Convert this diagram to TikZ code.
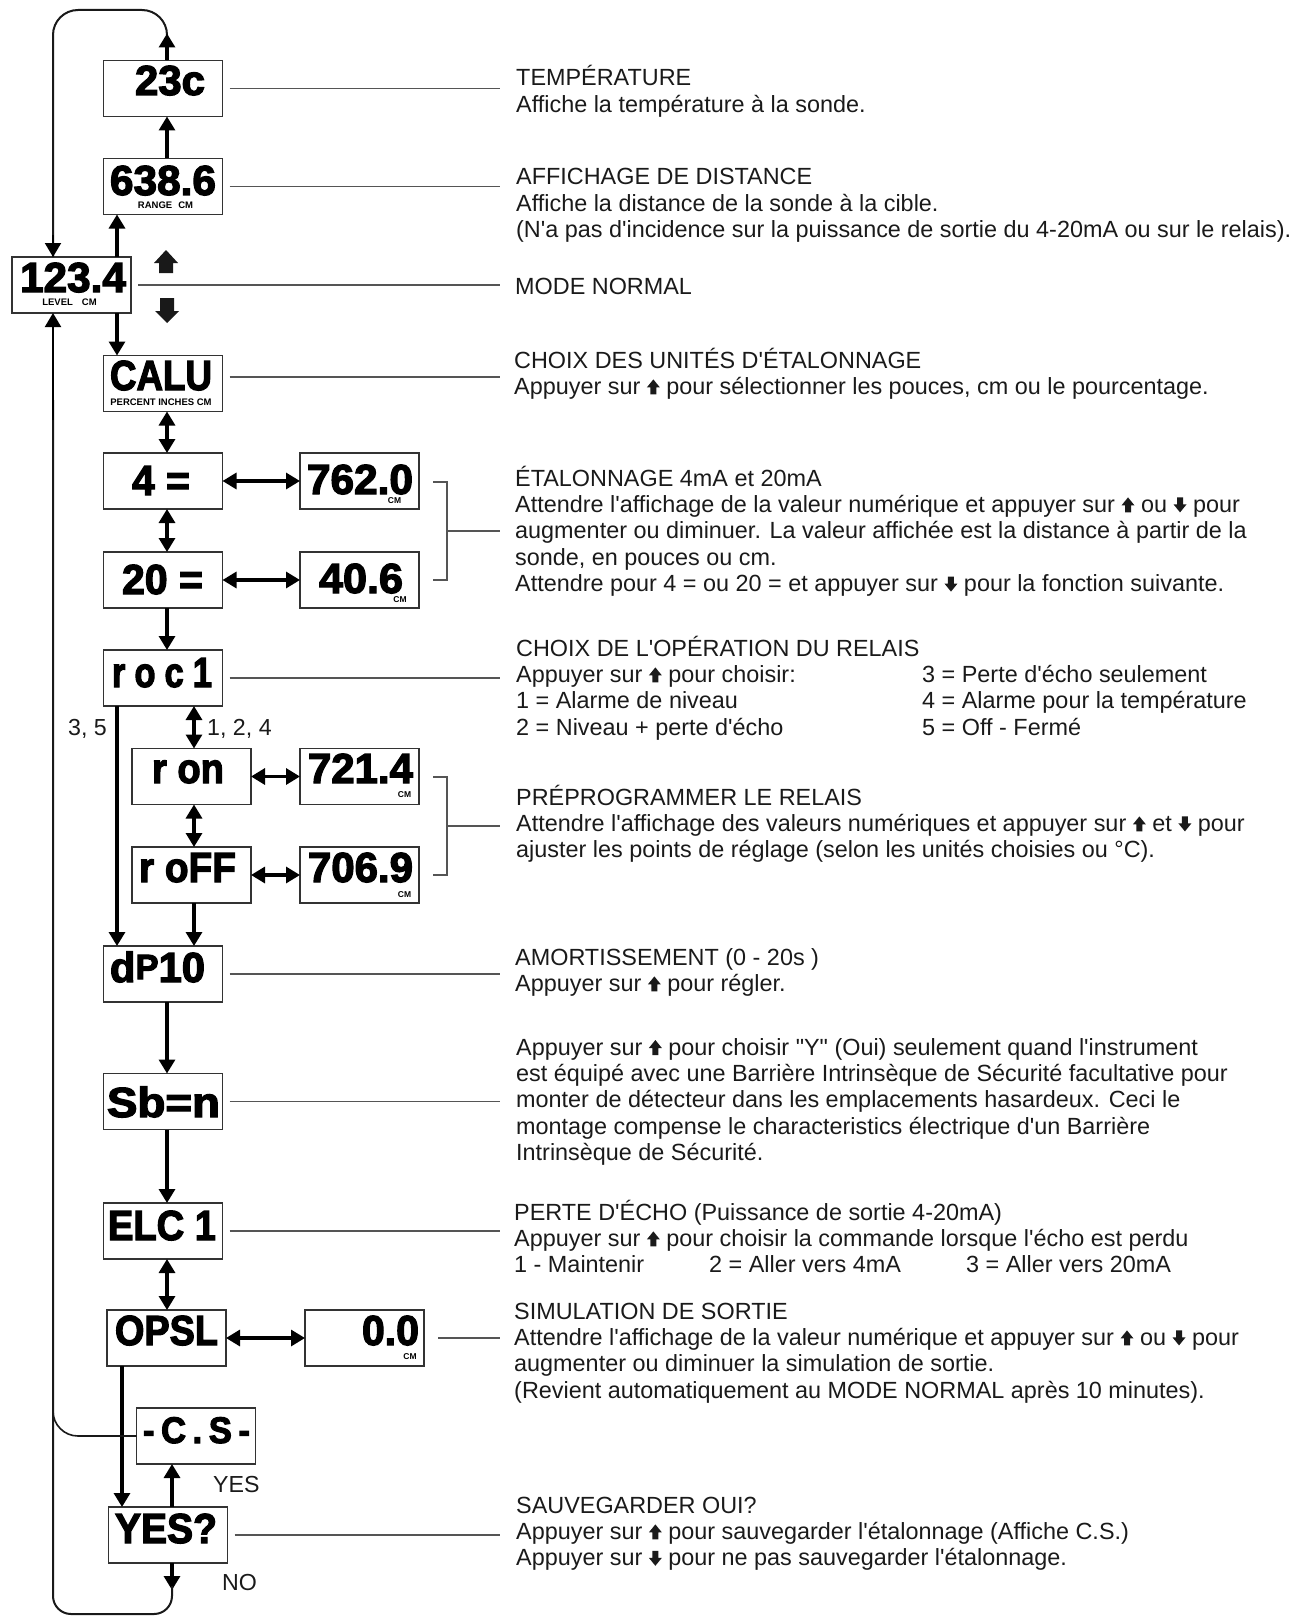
\documentclass[tikz,border=0pt]{standalone}
\usepackage{fontspec}
\setmainfont{Liberation Sans}[Ligatures=TeXOff]
\newfontfamily\dispfont{Liberation Sans Bold}[FakeBold=3]
\usepackage{graphicx}
\usetikzlibrary{arrows.meta}
\definecolor{boxc}{HTML}{333333}
\definecolor{leadc}{HTML}{555555}
\definecolor{txt}{HTML}{1A1A1A}
\newcommand{\disp}[3][42]{\resizebox{#2pt}{\height}{\dispfont\fontsize{#1}{#1}\selectfont #3}}
\newcommand{\upglyph}{\tikz[baseline=0pt,x=1pt,y=1pt]\fill[txt] (3.5,0) -- (9.5,0) -- (9.5,7) -- (13,7) -- (6.5,15) -- (0,7) -- (3.5,7) -- cycle;}
\newcommand{\dnglyph}{\tikz[baseline=0pt,x=1pt,y=1pt]\fill[txt] (3.5,15) -- (9.5,15) -- (9.5,8) -- (13,8) -- (6.5,0) -- (0,8) -- (3.5,8) -- cycle;}
\newcommand{\blk}[1]{\vtop{\baselineskip=26.4pt\lineskiplimit=-100pt\lineskip=0pt #1}}
\newcommand{\lineh}[1]{\hbox{#1}}
\begin{document}
\begin{tikzpicture}[x=1pt,y=-1pt,
  box/.style={draw=boxc, line width=1.6pt, minimum width=119pt, minimum height=56pt, inner sep=0pt, outer sep=0pt},
  bt/.style={inner sep=0pt, anchor=base, text=black},
  lab/.style={inner sep=0pt, anchor=base, font=\bfseries\fontsize{9.5}{9.5}\selectfont},
  cmlab/.style={inner sep=0pt, anchor=base, font=\bfseries\fontsize{8.5}{8.5}\selectfont},
  desc/.style={inner sep=0pt, anchor=base west, font=\fontsize{23.4}{26.4}\selectfont, text=txt},
  side/.style={inner sep=0pt, font=\fontsize{23.2}{26.4}\selectfont, text=txt},
  arr/.style={line width=3.2pt, -{Triangle[width=16pt,length=14pt]}},
  darr/.style={line width=3.2pt, {Triangle[width=16pt,length=14pt]}-{Triangle[width=16pt,length=14pt]}},
  leader/.style={line width=1.3pt, draw=leadc},
  loopl/.style={line width=2pt, draw=black!90},
]
\useasboundingbox (0,0) rectangle (1293,1616);

% column coordinates
\coordinate (xL) at (53,0);
\coordinate (xA) at (117,0);
\coordinate (xO) at (122,0);
\coordinate (xM) at (167,0);
\coordinate (xY) at (172,0);
\coordinate (xR) at (194,0);
\coordinate (xT) at (500,0);

% boxes
\node[box] (b23)   at (163,88.5) {};
\node[box] (b638)  at (163,186.5) {};
\node[box] (b123)  at (71.5,285) {};
\node[box] (bcalu) at (163,383.5) {};
\node[box] (b4)    at (163,481) {};
\node[box] (b762)  at (359.5,481) {};
\node[box] (b20)   at (163,580) {};
\node[box] (b406)  at (359.5,580) {};
\node[box] (broc)  at (163,678) {};
\node[box] (bron)  at (191.5,776.5) {};
\node[box] (b7214) at (359.5,776.5) {};
\node[box] (broff) at (191.5,875) {};
\node[box] (b7069) at (359.5,875) {};
\node[box] (bdp)   at (163,974) {};
\node[box] (bsb)   at (163,1101.5) {};
\node[box] (belc)  at (163,1231) {};
\node[box] (bopsl) at (166.5,1338) {};
\node[box] (b00)   at (364.5,1338) {};
\node[box] (bcs)   at (196,1436) {};
\node[box] (byes)  at (168,1535) {};

% display texts
\node[bt] (t23)   at (170,95)   {\disp{70}{23c}};
\node[bt] (t638)  at (163,195)  {\disp{106}{638.6}};
\node[lab] (l638) at (165.5,208) {RANGE\hspace{6pt}CM};
\node[bt] (t123)  at (73,292)   {\disp{106}{123.4}};
\node[lab] (l123) at (69.5,305.5) {LEVEL\hspace{9pt}CM};
\node[bt] (tcalu) at (161,390)  {\disp{102}{CALU}};
\node[lab] (lcalu) at (161,405.5) {PERCENT INCHES CM};
\node[bt] (t4)    at (161,495)  {\disp{58}{4 =}};
\node[bt] (t762)  at (360,494)  {\disp{106}{762.0}};
\node[cmlab] (c762) at (394.5,503) {CM};
\node[bt] (t20)   at (162.5,594) {\disp{81}{20 =}};
\node[bt] (t406)  at (361,593)  {\disp{84}{40.6}};
\node[cmlab] (c406) at (400,602) {CM};
\node[bt] (troc)  at (162,687)  {\disp{100}{r\hspace{11pt}o\hspace{11pt}c\hspace{11pt}1}};
\node[bt] (tron)  at (188,783)  {\disp{72}{r on}};
\node[bt] (t7214) at (360.5,783) {\disp{105}{721.4}};
\node[cmlab] (c7214) at (404.5,797.5) {CM};
\node[bt] (troff) at (187.5,882) {\disp{97}{r oFF}};
\node[bt] (t7069) at (360.5,882) {\disp{105}{706.9}};
\node[cmlab] (c7069) at (404.5,897) {CM};
\node[bt] (tdp)   at (157.5,982) {\disp{95}{d\raisebox{3pt}{\fontsize{35}{35}\selectfont P}10}};
\node[bt] (tsb)   at (163.5,1117) {\disp{113}{Sb=n}};
\node[bt] (telc)  at (162,1240) {\disp{108}{ELC 1}};
\node[bt] (topsl) at (166.5,1345) {\disp{103}{OPSL}};
\node[bt] (t00)   at (390.5,1345) {\disp{57}{0.0}};
\node[cmlab] (c00) at (410,1359) {CM};
\node[bt] (tcs)   at (196.5,1443) {\disp[37]{107}{-\hspace{7pt}C\hspace{7pt}.\hspace{7pt}S\hspace{7pt}-}};
\node[bt] (tyes)  at (166,1543) {\disp{102}{YES?}};

% side labels
\node[side, anchor=base] (l35) at (87.5,735) {3, 5};
\node[side, anchor=base west] (l124) at (207,735) {1, 2, 4};
\node[side, anchor=base west] (lyes) at (213,1492.5) {YES};
\node[side, anchor=base west] (lno) at (222,1590.5) {NO};

% top loop
\draw[loopl, rounded corners=25pt] (b23.north -| xM) -- (167,10) -- (53,10) -- (b123.north -| xL);
\draw[arr] (b23.north -| xM) -- ++(0,-27);
\draw[line width=2pt, -{Triangle[width=16pt,length=14pt]}] (53,235) -- (b123.north -| xL);

% main column arrows
\draw[arr] (b638.north -| xM) -- (b23.south -| xM);
\draw[arr] (b123.north -| xA) -- (b638.south -| xA);
\draw[arr] (b123.south -| xA) -- (bcalu.north -| xA);
\draw[darr] (bcalu.south -| xM) -- (b4.north -| xM);
\draw[darr] (b4.east) -- (b762.west);
\draw[darr] (b4.south -| xM) -- (b20.north -| xM);
\draw[darr] (b20.east) -- (b406.west);
\draw[arr] (b20.south -| xM) -- (broc.north -| xM);
\draw[arr] (broc.south -| xA) -- (bdp.north -| xA);
\draw[darr] (broc.south -| xR) -- (bron.north -| xR);
\draw[darr] (bron.east) -- (b7214.west);
\draw[darr] (bron.south -| xR) -- (broff.north -| xR);
\draw[darr] (broff.east) -- (b7069.west);
\draw[arr] (broff.south -| xR) -- (bdp.north -| xR);
\draw[arr] (bdp.south -| xM) -- (bsb.north -| xM);
\draw[arr] (bsb.south -| xM) -- (belc.north -| xM);
\draw[darr] (belc.south -| xM) -- (bopsl.north -| xM);
\draw[darr] (bopsl.east) -- (b00.west);
\draw[arr] (bopsl.south -| xO) -- (byes.north -| xO);
\draw[arr] (byes.north -| xY) -- (bcs.south -| xY);

% C.S. return
\draw[line width=1.6pt, draw=black!90, rounded corners=25pt] (bcs.west) -- (53,1436) -- (53,1390);

% NO path and bottom loop
\draw[arr] (byes.south -| xY) -- ++(0,27);
\draw[loopl, rounded corners=18pt] (172,1586) -- (172,1614) -- (53,1614) -- (53,400);
\draw[line width=2pt, -{Triangle[width=16pt,length=14pt]}] (53,420) -- (b123.south -| xL);

% block arrows near normal mode
\fill[black!90] (159,273) -- (173,273) -- (173,263) -- (178,263) -- (166,250) -- (154,263) -- (159,263) -- cycle;
\fill[black!90] (160,298) -- (174,298) -- (174,311) -- (179,311) -- (167,323) -- (155,311) -- (160,311) -- cycle;

% leader lines
\draw[leader] ([xshift=7pt]b23.east) -- (b23.east -| xT);
\draw[leader] ([xshift=7pt]b638.east) -- (b638.east -| xT);
\draw[leader] ([xshift=7pt]b123.east) -- (b123.east -| xT);
\draw[leader] ([xshift=7pt,yshift=6.5pt]bcalu.east) -- ([yshift=6.5pt]bcalu.east -| xT);
\draw[leader] ([xshift=7pt]broc.east) -- (broc.east -| xT);
\draw[leader] ([xshift=7pt]bdp.east) -- (bdp.east -| xT);
\draw[leader] ([xshift=7pt]bsb.east) -- (bsb.east -| xT);
\draw[leader] ([xshift=7pt]belc.east) -- (belc.east -| xT);
\draw[leader] ([xshift=14pt]b00.east) -- (b00.east -| xT);
\draw[leader] ([xshift=7pt]byes.east) -- (byes.east -| xT);

% brackets
\coordinate (k1a) at (433,482); \coordinate (k1b) at (447,482);
\coordinate (k1c) at (447,580); \coordinate (k1d) at (433,580);
\coordinate (k1m) at (447,531);
\draw[leader] (k1a) -- (k1b) -- (k1c) -- (k1d);
\draw[leader] (k1m) -- (k1m -| xT);
\coordinate (k2a) at (433,777); \coordinate (k2b) at (447,777);
\coordinate (k2c) at (447,875); \coordinate (k2d) at (433,875);
\coordinate (k2m) at (447,826);
\draw[leader] (k2a) -- (k2b) -- (k2c) -- (k2d);
\draw[leader] (k2m) -- (k2m -| xT);

% descriptions
\node[desc] (d1) at (516,86) {\blk{\lineh{TEMPÉRATURE}\lineh{Affiche la température à la sonde.}}};
\node[desc] (d2) at (516,185) {\blk{\lineh{AFFICHAGE DE DISTANCE}\lineh{Affiche la distance de la sonde à la cible.}\lineh{(N'a pas d'incidence sur la puissance de sortie du 4-20mA ou sur le relais).}}};
\node[desc] (d3) at (515,294) {MODE NORMAL};
\node[desc] (d4) at (514,368) {\blk{\lineh{CHOIX DES UNITÉS D'ÉTALONNAGE}\lineh{Appuyer sur \upglyph{} pour sélectionner les pouces, cm ou le pourcentage.}}};
\node[desc] (d5) at (515,486) {\blk{\lineh{ÉTALONNAGE 4mA et 20mA}\lineh{Attendre l'affichage de la valeur numérique et appuyer sur \upglyph{} ou \dnglyph{} pour}\lineh{augmenter ou diminuer. La valeur affichée est la distance à partir de la}\lineh{sonde, en pouces ou cm.}\lineh{Attendre pour 4 = ou 20 = et appuyer sur \dnglyph{} pour la fonction suivante.}}};
\node[desc] (d6) at (516,656) {\blk{\lineh{CHOIX DE L'OPÉRATION DU RELAIS}\lineh{\hbox to 406pt{Appuyer sur \upglyph{} pour choisir:\hss}3 = Perte d'écho seulement}\lineh{\hbox to 406pt{1 = Alarme de niveau\hss}4 = Alarme pour la température}\lineh{\hbox to 406pt{2 = Niveau + perte d'écho\hss}5 = Off - Fermé}}};
\node[desc] (d7) at (516,805) {\blk{\lineh{PRÉPROGRAMMER LE RELAIS}\lineh{Attendre l'affichage des valeurs numériques et appuyer sur \upglyph{} et \dnglyph{} pour}\lineh{ajuster les points de réglage (selon les unités choisies ou °C).}}};
\node[desc] (d8) at (515,965) {\blk{\lineh{AMORTISSEMENT (0 - 20s )}\lineh{Appuyer sur \upglyph{} pour régler.}}};
\node[desc] (d9) at (516,1055) {\blk{\lineh{Appuyer sur \upglyph{} pour choisir "Y" (Oui) seulement quand l'instrument}\lineh{est équipé avec une Barrière Intrinsèque de Sécurité facultative pour}\lineh{monter de détecteur dans les emplacements hasardeux. Ceci le}\lineh{montage compense le characteristics électrique d'un Barrière}\lineh{Intrinsèque de Sécurité.}}};
\node[desc] (d10) at (514,1220) {\blk{\lineh{PERTE D'ÉCHO (Puissance de sortie 4-20mA)}\lineh{Appuyer sur \upglyph{} pour choisir la commande lorsque l'écho est perdu}\lineh{\hbox to 195pt{1 - Maintenir\hss}\hbox to 257pt{2 = Aller vers 4mA\hss}3 = Aller vers 20mA}}};
\node[desc] (d11) at (514,1319) {\blk{\lineh{SIMULATION DE SORTIE}\lineh{Attendre l'affichage de la valeur numérique et appuyer sur \upglyph{} ou \dnglyph{} pour}\lineh{augmenter ou diminuer la simulation de sortie.}\lineh{(Revient automatiquement au MODE NORMAL après 10 minutes).}}};
\node[desc] (d12) at (516,1513) {\blk{\lineh{SAUVEGARDER OUI?}\lineh{Appuyer sur \upglyph{} pour sauvegarder l'étalonnage (Affiche C.S.)}\lineh{Appuyer sur \dnglyph{} pour ne pas sauvegarder l'étalonnage.}}};
\end{tikzpicture}
\end{document}
